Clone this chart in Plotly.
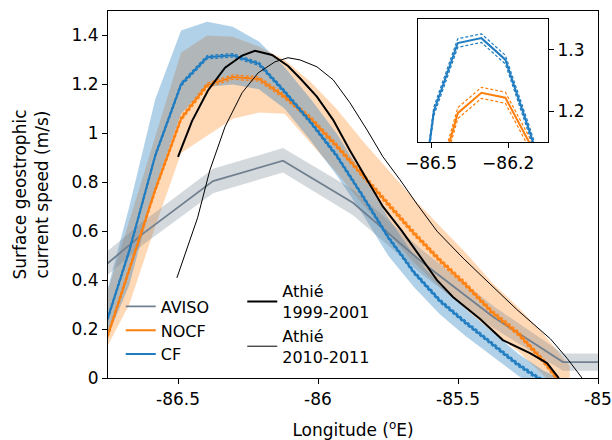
import plotly.graph_objects as go

# ---- data ----
lon_model = [-86.766, -86.674, -86.581, -86.489, -86.396, -86.304, -86.211, -86.119, -86.026,
             -85.934, -85.841, -85.749, -85.656, -85.564, -85.471, -85.379, -85.286, -85.194, -85.101]
cf_mean = [0.19, 0.52, 0.91, 1.20, 1.311, 1.319, 1.284, 1.17, 1.045, 0.91, 0.745, 0.575, 0.43,
           0.315, 0.225, 0.14, 0.055, -0.015, -0.06]
cf_upper = [0.30, 0.70, 1.14, 1.42, 1.456, 1.436, 1.375, 1.27, 1.14, 1.00, 0.83, 0.655, 0.50,
            0.38, 0.28, 0.19, 0.10, 0.03, -0.02]
cf_lower = [0.13, 0.38, 0.78, 1.08, 1.19, 1.20, 1.18, 1.10, 0.97, 0.83, 0.67, 0.50, 0.37,
            0.26, 0.17, 0.09, 0.01, -0.06, -0.1]
nocf_mean = [0.12, 0.44, 0.77, 1.06, 1.197, 1.230, 1.222, 1.15, 1.06, 0.95, 0.83, 0.71, 0.59,
             0.48, 0.38, 0.27, 0.183, 0.068, -0.066]
nocf_upper = [0.30, 0.64, 0.98, 1.33, 1.40, 1.395, 1.355, 1.30, 1.21, 1.10, 0.97, 0.85, 0.73,
              0.62, 0.51, 0.39, 0.29, 0.18, 0.05]
nocf_lower = [0.10, 0.30, 0.62, 0.92, 0.99, 1.06, 1.085, 1.08, 0.96, 0.84, 0.71, 0.59, 0.47,
              0.37, 0.28, 0.19, 0.11, 0.01, -0.1]
cf_ci = 0.007
nocf_ci = 0.009

lon_aviso = [-86.875, -86.625, -86.375, -86.125, -85.875, -85.625, -85.375, -85.125, -84.875]
aviso_mean = [0.35, 0.59, 0.805, 0.888, 0.716, 0.47, 0.25, 0.065, 0.065]
aviso_upper = [0.40, 0.64, 0.855, 0.94, 0.77, 0.52, 0.295, 0.10, 0.10]
aviso_lower = [0.30, 0.545, 0.755, 0.84, 0.665, 0.42, 0.205, 0.03, 0.03]

lon_athie99 = [-86.50, -86.45, -86.393, -86.332, -86.271, -86.225, -86.164, -86.107, -86.064,
               -86.004, -85.946, -85.886, -85.825, -85.768, -85.70, -85.636, -85.575, -85.518,
               -85.457, -85.42, -85.34, -85.243, -85.182, -85.14]
athie99 = [0.904, 1.05, 1.175, 1.268, 1.318, 1.337, 1.32, 1.275, 1.225, 1.15, 1.055, 0.93, 0.81,
           0.70, 0.60, 0.495, 0.40, 0.331, 0.275, 0.24, 0.155, 0.102, 0.061, 0.0]

lon_athie10 = [-86.504, -86.43, -86.386, -86.332, -86.271, -86.214, -86.154, -86.107, -86.064,
               -86.004, -85.946, -85.886, -85.825, -85.768, -85.707, -85.646, -85.575, -85.482,
               -85.40, -85.29, -85.17, -85.11, -85.057]
athie10 = [0.409, 0.655, 0.85, 1.027, 1.166, 1.247, 1.292, 1.309, 1.30, 1.272, 1.219, 1.125,
           1.014, 0.904, 0.81, 0.71, 0.60, 0.49, 0.40, 0.28, 0.16, 0.08, 0.0]

x_ticks = [-86.5, -86, -85.5, -85]
x_ticktext = ["-86.5", "-86", "-85.5", "-85"]
y_ticks = [0, 0.2, 0.4, 0.6, 0.8, 1.0, 1.2, 1.4]
y_ticktext = ["0", "0.2", "0.4", "0.6", "0.8", "1", "1.2", "1.4"]
inset_x_ticks = [-86.5, -86.2]
inset_x_ticktext = ["\u221286.5", "\u221286.2"]
inset_y_ticks = [1.2, 1.3]
inset_y_ticktext = ["1.2", "1.3"]

# ---- styles ----
BLUE = "#1f7cc0"
ORANGE = "#ff7f0e"
SLATE = "#708090"
FONT = "DejaVu Sans"

fig = go.Figure()


def band(x, lo, hi, color, xa="x", ya="y"):
    return go.Scatter(x=list(x) + list(x)[::-1], y=list(hi) + list(lo)[::-1], fill="toself",
                      fillcolor=color, line=dict(width=0), mode="lines", hoverinfo="skip",
                      showlegend=False, xaxis=xa, yaxis=ya)


# bands
fig.add_trace(band(lon_model, nocf_lower, nocf_upper, "rgba(255,127,14,0.30)"))
fig.add_trace(band(lon_model, cf_lower, cf_upper, "rgba(31,124,192,0.35)"))
fig.add_trace(band(lon_aviso, aviso_lower, aviso_upper, "rgba(112,128,144,0.30)"))


def model_lines(x, m, ci, color, name, leg, xa="x", ya="y"):
    out = []
    for s in (-1, 1):
        out.append(go.Scatter(x=x, y=[v + s * ci for v in m], mode="lines",
                              line=dict(color=color, width=1.2, dash="3px,2px"),
                              showlegend=False, hoverinfo="skip", xaxis=xa, yaxis=ya))
    out.append(go.Scatter(x=x, y=m, mode="lines", line=dict(color=color, width=2),
                          name=name, showlegend=leg, legend="legend", xaxis=xa, yaxis=ya))
    return out


fig.add_trace(go.Scatter(x=lon_aviso, y=aviso_mean, mode="lines",
                         line=dict(color=SLATE, width=1.8), name="AVISO", legend="legend"))
for t in model_lines(lon_model, nocf_mean, nocf_ci, ORANGE, "NOCF", True):
    fig.add_trace(t)
for t in model_lines(lon_model, cf_mean, cf_ci, BLUE, "CF", True):
    fig.add_trace(t)
fig.add_trace(go.Scatter(x=lon_athie99, y=athie99, mode="lines", line=dict(color="black", width=2),
                         name="Athié<br>1999-2001", legend="legend2"))
fig.add_trace(go.Scatter(x=lon_athie10, y=athie10, mode="lines", line=dict(color="black", width=1),
                         name="Athié<br>2010-2011", legend="legend3"))

# inset
for t in model_lines(lon_model, nocf_mean, nocf_ci, ORANGE, "NOCF", False, "x2", "y2"):
    fig.add_trace(t)
for t in model_lines(lon_model, cf_mean, cf_ci, BLUE, "CF", False, "x2", "y2"):
    fig.add_trace(t)

FS = 17
axis_common = dict(showgrid=False, zeroline=False, showline=True, linecolor="black", linewidth=1.2,
                   mirror=True, ticks="outside", ticklen=5, tickcolor="black", tickwidth=1.2,
                   automargin=False, tickfont=dict(family=FONT, size=FS, color="black"))
leg_common = dict(xanchor="left", yanchor="top", bgcolor="rgba(0,0,0,0)",
                  font=dict(family=FONT, size=16), tracegroupgap=0, itemwidth=30)

fig.update_layout(
    width=612, height=440,
    margin=dict(l=108, r=14, t=11, b=62, autoexpand=False),
    paper_bgcolor="white", plot_bgcolor="white",
    font=dict(family=FONT, size=FS, color="black"),
    xaxis=dict(range=[-86.75, -85.0], tickvals=x_ticks, ticktext=x_ticktext,
               title=dict(text="Longitude (<sup>o</sup>E)", font=dict(family=FONT, size=FS), standoff=20),
               **axis_common),
    yaxis=dict(range=[0, 1.5], tickvals=y_ticks, ticktext=y_ticktext,
               title=dict(text="Surface geostrophic<br>current speed (m/s)",
                          font=dict(family=FONT, size=FS), standoff=18),
               **axis_common),
    xaxis2=dict(domain=[0.633, 0.898], anchor="y2", range=[-86.55, -86.045],
                tickvals=inset_x_ticks, ticktext=inset_x_ticktext, **axis_common),
    yaxis2=dict(domain=[0.643, 0.978], anchor="x2", range=[1.15, 1.35], side="right",
                tickvals=inset_y_ticks, ticktext=inset_y_ticktext, **axis_common),
    legend=dict(x=0.026, y=0.241, **leg_common),
    legend2=dict(x=0.274, y=0.283, **leg_common),
    legend3=dict(x=0.274, y=0.161, **leg_common),
)

fig.write_html("out.html", config={"displayModeBar": False},
               post_script="document.body.style.margin='0px';")
